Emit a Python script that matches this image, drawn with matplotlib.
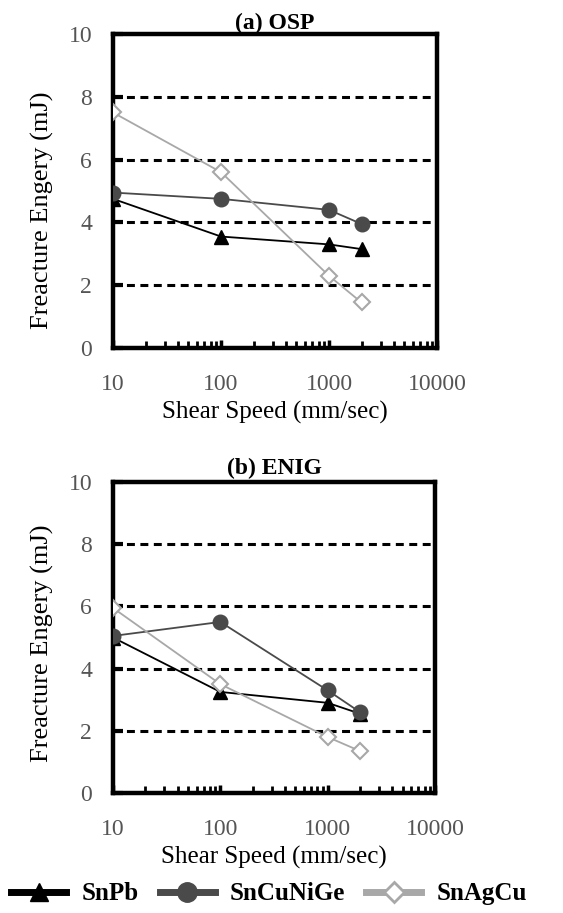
import matplotlib
matplotlib.use("Agg")
import matplotlib.pyplot as plt
from matplotlib.lines import Line2D
from matplotlib.ticker import LogLocator, FixedLocator, NullFormatter

speeds = [10, 100, 1000, 2000]
osp_snpb = [4.75, 3.55, 3.3, 3.15]
osp_sncunige = [4.95, 4.75, 4.4, 3.95]
osp_snagcu = [7.5, 5.6, 2.3, 1.45]
enig_snpb = [5.0, 3.25, 2.9, 2.55]
enig_sncunige = [5.05, 5.5, 3.3, 2.6]
enig_snagcu = [5.95, 3.5, 1.8, 1.35]
yticks = [0, 2, 4, 6, 8, 10]
xticks = [10, 100, 1000, 10000]
xtick_labels = ["10", "100", "1000", "10000"]
series_names = ["SnPb", "SnCuNiGe", "SnAgCu"]

plt.rcParams['font.family'] = ['Liberation Serif', 'DejaVu Serif']

fig = plt.figure(figsize=(5.63, 9.13), dpi=100)
ax1 = fig.add_axes([0.2007, 0.6188, 0.5755, 0.3440])
ax2 = fig.add_axes([0.2007, 0.1314, 0.5720, 0.3407])

styles = [
    dict(color="black", marker="^", markersize=10, markerfacecolor="black",
         markeredgecolor="black", lw=1.3),
    dict(color="#4a4a4a", marker="o", markersize=10.5, markerfacecolor="#4a4a4a",
         markeredgecolor="#4a4a4a", lw=1.3),
    dict(color="#a8a8a8", marker="D", markersize=8, markerfacecolor="white",
         markeredgecolor="#a8a8a8", markeredgewidth=1.5, lw=1.3),
]

def setup(ax, title, data, title_pad, ylab_y):
    ax.set_xscale("log")
    ax.set_xlim(10, 10000)
    ax.set_ylim(0, 10)
    for v in [2, 4, 6, 8]:
        ax.axhline(v, color="black", lw=2.2, ls=(0, (2.6, 1.8)), zorder=1)
    for vals, st in zip(data, styles):
        ax.plot(speeds, vals, zorder=3, **st)
    for s in ax.spines.values():
        s.set_linewidth(3.2)
    ax.set_yticks(yticks)
    ax.set_yticklabels([str(v) for v in yticks])
    ax.xaxis.set_major_locator(FixedLocator(xticks))
    ax.set_xticklabels(xtick_labels)
    ax.xaxis.set_minor_locator(LogLocator(base=10, subs=range(2, 10)))
    ax.xaxis.set_minor_formatter(NullFormatter())
    ax.tick_params(axis="y", direction="in", length=7, width=3, labelsize=17,
                   labelcolor="#555555", pad=15, right=False)
    ax.tick_params(axis="x", which="major", direction="in", length=6, width=2.5,
                   labelsize=17, labelcolor="#555555", pad=19, top=False)
    ax.tick_params(axis="x", which="minor", direction="in", length=5, width=2,
                   top=False)
    ax.set_ylabel("Freacture Engery (mJ)", fontsize=19)
    ax.yaxis.set_label_coords(-0.182, ylab_y)
    ax.set_xlabel("Shear Speed (mm/sec)", fontsize=18, labelpad=4)
    ax.set_title(title, fontsize=17, fontweight="bold", pad=title_pad)

setup(ax1, "(a) OSP", [osp_snpb, osp_sncunige, osp_snagcu], 0, 0.44)
setup(ax2, "(b) ENIG", [enig_snpb, enig_sncunige, enig_snagcu], 6, 0.48)

handles = [
    Line2D([], [], color="black", lw=5, marker="^", markersize=13,
           markerfacecolor="black", markeredgecolor="black"),
    Line2D([], [], color="#4a4a4a", lw=5, marker="o", markersize=14,
           markerfacecolor="#4a4a4a", markeredgecolor="#4a4a4a"),
    Line2D([], [], color="#a8a8a8", lw=5, marker="D", markersize=10,
           markerfacecolor="white", markeredgecolor="#a8a8a8", markeredgewidth=2),
]
fig.legend(handles, series_names, loc="center", bbox_to_anchor=(0.478, 0.021),
           ncol=3, frameon=False, handlelength=2.2, handletextpad=0.6,
           columnspacing=0.85, prop=dict(family="Liberation Serif", weight="bold", size=18))

fig.savefig("out.png", dpi=100)
